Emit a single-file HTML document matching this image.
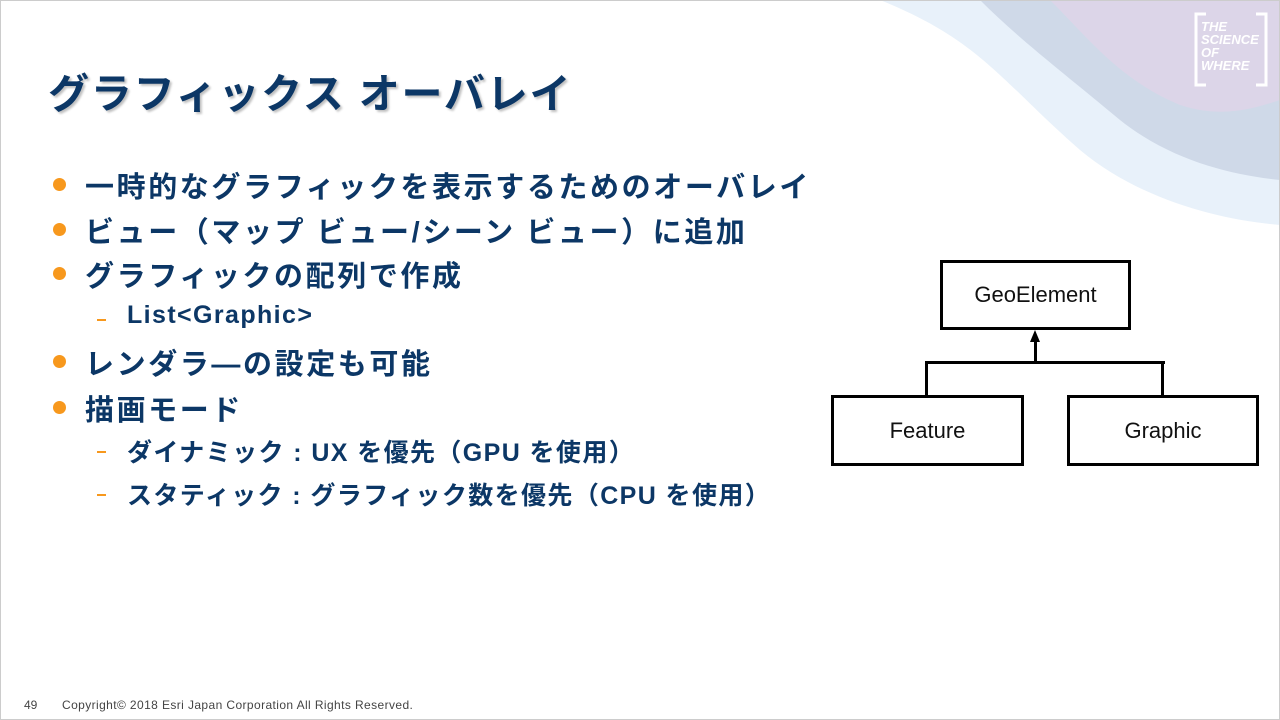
<!DOCTYPE html>
<html><head><meta charset="utf-8"><style>
body{margin:0;width:1280px;height:720px;overflow:hidden;background:#fff;position:relative;font-family:"Liberation Sans","Noto Sans CJK JP",sans-serif}
.t{position:absolute;left:48px;top:60px;font-size:41px;letter-spacing:1.8px;font-weight:bold;color:#0c3766;text-shadow:2px 2px 2px rgba(0,0,0,0.25);white-space:nowrap}
.b{position:absolute;left:85px;font-size:29px;letter-spacing:2.6px;font-weight:bold;color:#0c3766;white-space:nowrap}
.b:before{content:"";position:absolute;left:-32px;top:14px;width:13px;height:13px;border-radius:50%;background:#f7981d}
.s{position:absolute;left:127px;font-size:25px;letter-spacing:1.4px;font-weight:bold;color:#0c3766;white-space:nowrap}
.s:before{content:"";position:absolute;left:-30px;top:18px;width:9px;height:2px;background:#f7981d}
.box{position:absolute;border:3px solid #000;background:#fff;box-sizing:border-box;display:flex;align-items:center;justify-content:center;font-size:22px;color:#111}
.ln{position:absolute;background:#000}
.f{position:absolute;bottom:8px;font-size:12px;color:#444}
</style></head><body>
<svg style="position:absolute;left:0;top:0" width="1280" height="720">
<path d="M880 0 C980 40 1000 80 1080 150 C1140 200 1220 220 1280 225 L1280 0Z" fill="#e8f1fa"/>
<path d="M980 0 C1020 40 1060 70 1120 120 C1170 160 1230 175 1280 180 L1280 0Z" fill="#cfd9e8"/>
<path d="M1050 0 C1090 40 1120 80 1180 105 C1220 118 1250 110 1280 100 L1280 0Z" fill="#dcd5e8"/>
<rect x="0.5" y="0.5" width="1279" height="719" fill="none" stroke="#ccc"/>
<path d="M1206 14 H1196 V85 H1206 M1256 14 H1266 V85 H1256" fill="none" stroke="#fff" stroke-width="3"/>
</svg>
<div style="position:absolute;left:1201px;top:20px;font-size:13px;line-height:13px;font-weight:bold;font-style:italic;color:#fff">THE<br>SCIENCE<br>OF<br>WHERE</div>
<div class="t">グラフィックス オーバレイ</div>
<div class="b" style="top:164px">一時的なグラフィックを表示するためのオーバレイ</div>
<div class="b" style="top:209px">ビュー（マップ ビュー/シーン ビュー）に追加</div>
<div class="b" style="top:253px">グラフィックの配列で作成</div>
<div class="s" style="top:301px">List&lt;Graphic&gt;</div>
<div class="b" style="top:341px">レンダラ―の設定も可能</div>
<div class="b" style="top:387px">描画モード</div>
<div class="s" style="top:433px">ダイナミック : UX を優先（GPU を使用）</div>
<div class="s" style="top:476px">スタティック : グラフィック数を優先（CPU を使用）</div>
<div class="box" style="left:940px;top:260px;width:191px;height:70px">GeoElement</div>
<div class="box" style="left:831px;top:395px;width:193px;height:71px">Feature</div>
<div class="box" style="left:1067px;top:395px;width:192px;height:71px">Graphic</div>
<div class="ln" style="left:1034px;top:340px;width:3px;height:24px"></div>
<div style="position:absolute;left:1030px;top:330px;width:0;height:0;border-left:5.5px solid transparent;border-right:5.5px solid transparent;border-bottom:12px solid #000"></div>
<div class="ln" style="left:925px;top:361px;width:240px;height:3px"></div>
<div class="ln" style="left:925px;top:361px;width:3px;height:35px"></div>
<div class="ln" style="left:1161px;top:361px;width:3px;height:35px"></div>
<div class="f" style="left:24px">49</div>
<div class="f" style="left:62px;letter-spacing:0.4px">Copyright© 2018 Esri Japan Corporation All Rights Reserved.</div>
</body></html>
